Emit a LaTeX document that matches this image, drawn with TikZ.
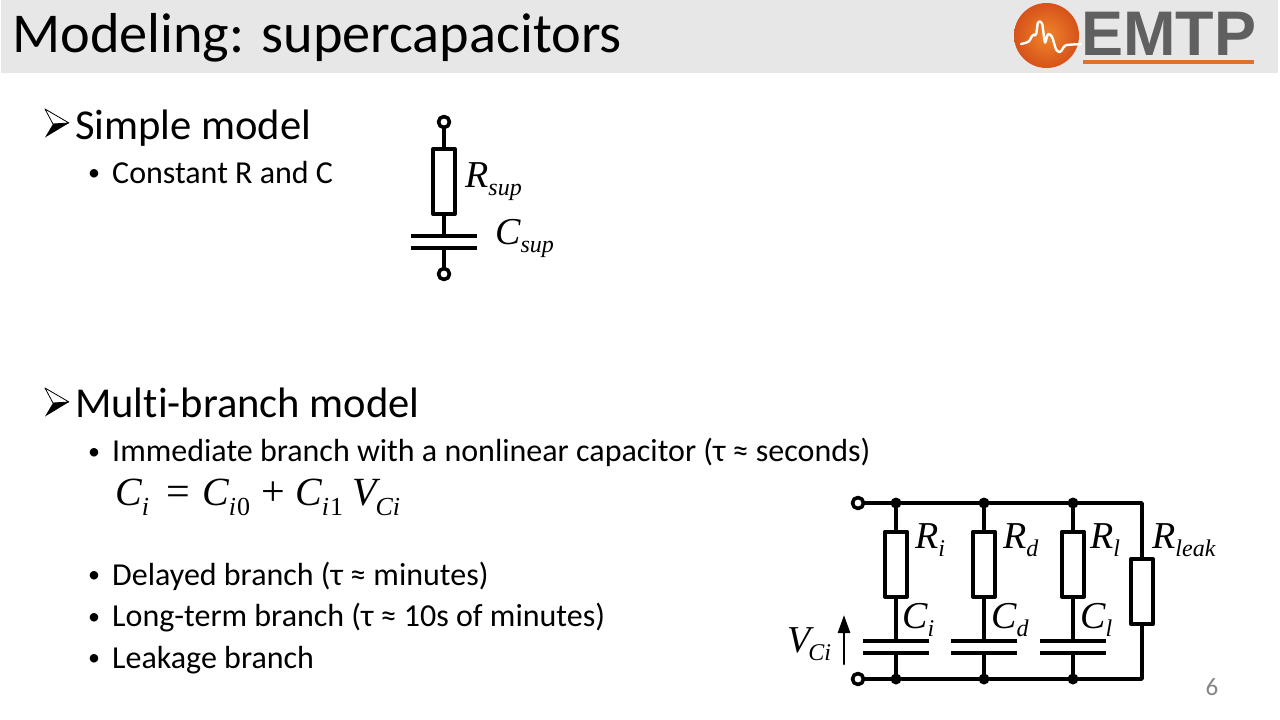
\documentclass[tikz,border=0pt]{standalone}
\usepackage{fontspec}
\setmainfont{Carlito}[Ligatures=NoCommon]
\newfontfamily\timesfont{Liberation Serif}
\newfontfamily\arialfont{Liberation Sans}
\usetikzlibrary{arrows.meta}
\definecolor{headgray}{HTML}{E7E7E7}
\definecolor{logogray}{HTML}{606060}
\definecolor{logoorange}{HTML}{E0702A}
\definecolor{ballinner}{HTML}{F0852B}
\definecolor{ballouter}{HTML}{D6521A}
\definecolor{pagegray}{HTML}{858585}
\newcommand{\symlab}[2]{{\timesfont\itshape\fontsize{38}{40}\selectfont #1\raisebox{-8pt}{\fontsize{24}{27}\selectfont #2}}}
\newcommand{\eqsym}[2]{{\timesfont\itshape\fontsize{40}{44}\selectfont #1\raisebox{-10pt}{\fontsize{26}{28}\selectfont #2}}}

\begin{document}
\begin{tikzpicture}[line cap=round,line join=round,x=1pt,y=-1pt,
        heading/.style={anchor=base west,inner sep=0,font=\fontsize{42.6}{46}\selectfont},
        itemtext/.style={anchor=base west,inner sep=0,font=\fontsize{32}{35}\selectfont},
        itembullet/.style={anchor=base,inner sep=0,font=\fontsize{24}{28}\selectfont},
        symtext/.style={anchor=base west,inner sep=0},
        eqtext/.style={anchor=base west,inner sep=0,font=\timesfont\fontsize{42}{44}\selectfont},
        wire/.style={line width=3.4pt},
        resbox/.style={draw,line width=4pt,fill=white,minimum width=22pt,minimum height=65pt,inner sep=0},
        plate/.style={fill=black,minimum width=66pt,minimum height=3.6pt,inner sep=0},
        junction/.style={circle,fill=black,minimum size=11pt,inner sep=0},
        terminal/.style={circle,draw,line width=3.6pt,fill=white,minimum size=11pt,inner sep=0}]
                \useasboundingbox (0,0) rectangle (1280,720);
                \fill [white] (0,0) rectangle (1280,720);
                \fill [headgray] (1,0) rectangle (1278,73);
                \node [anchor=base west,inner sep=0,font=\fontsize{56.3}{60}\selectfont] (title) at (12,52) {Modeling: supercapacitors};
                \node [circle,minimum size=65pt,inner sep=0,shading=radial,inner color=ballinner,outer color=ballouter] (logoball) at (1046.5,35.5) {};
                \draw [white,line width=2.4pt,rounded corners=2.5pt] (1021,44)-- (1029,42)-- (1033,34)-- (1036,36)-- (1038,21)-- (1042,22)-- (1045,44)-- (1048,33)-- (1052,36)-- (1056,50)-- (1060,53)-- (1065,45)-- (1081,44);
                \node [anchor=base west,inner sep=0,text=logogray,font=\arialfont\bfseries\fontsize{63}{66}\selectfont] (logotext) at (1081,55) {EMTP};
                \fill [logoorange] (1083,60) rectangle (1254,63.5);
                \draw [line width=0.8pt] (45,109)-- (69,123)-- (53,124)-- cycle;
                \fill (45,137.5)-- (69,123)-- (53,124)-- cycle;
                \node [heading] (simple) at (75,139) {Simple model};
                \node [itembullet] (bulletB) at (94,180) {•};
                \node [itemtext] (constant) at (112,183) {Constant R and C};
                \draw [line width=0.8pt] (45,388)-- (69,402)-- (53,403)-- cycle;
                \fill (45,416.5)-- (69,402)-- (53,403)-- cycle;
                \node [heading] (multi) at (75,417) {Multi-branch model};
                \node [itembullet] (bulletD) at (94,459) {•};
                \node [itemtext] (immediate) at (112,461) {Immediate branch with a nonlinear capacitor (τ ≈ seconds)};
                \node [symtext] (eqCi) at (115,505) {\eqsym{C}{i}};
                \node [eqtext] (eqsign) at (166,505) {=};
                \node [symtext] (eqCzero) at (202,505) {\eqsym{C}{i\kern1pt\normalfont\timesfont 0}};
                \node [eqtext] (eqplus) at (261,505) {+};
                \node [symtext] (eqCone) at (295,505) {\eqsym{C}{i\kern1pt\normalfont\timesfont 1}};
                \node [symtext] (eqV) at (352,505) {\eqsym{V}{\kern-1pt Ci}};
                \node [itembullet] (bulletE) at (94,582) {•};
                \node [itemtext] (delayed) at (112,585) {Delayed branch (τ ≈ minutes)};
                \node [itembullet] (bulletF) at (94,624) {•};
                \node [itemtext] (longterm) at (112,626) {Long-term branch (τ ≈ 10s of minutes)};
                \node [itembullet] (bulletG) at (94,665) {•};
                \node [itemtext] (leakage) at (112,668) {Leakage branch};
                \node [anchor=base,inner sep=0,text=pagegray,font=\fontsize{25}{28}\selectfont] (pagenum) at (1212,695) {6};
                \node [terminal] (supA) at (444,122) {};
                \node [resbox] (Rsup) at (444,181.5) {};
                \node [plate] (Csupa) at (444,236) {};
                \node [plate] (Csupb) at (444,248) {};
                \node [terminal] (supB) at (444,274) {};
                \draw [wire] (supA)-- (Rsup);
                \draw [wire] (Rsup)-- (Csupa);
                \draw [wire] (Csupb)-- (supB);
                \node [symtext] (Rsuplab) at (465,187) {\symlab{R}{sup}};
                \node [symtext] (Csuplab) at (495,244) {\symlab{C}{sup}};
                \node [terminal] (inA) at (858,503) {};
                \node [terminal] (inB) at (858,679) {};
                \node [junction] (topi) at (896,503) {};
                \node [junction] (topd) at (984,503) {};
                \node [junction] (topl) at (1073,503) {};
                \node [junction] (boti) at (896,679) {};
                \node [junction] (botd) at (984,679) {};
                \node [junction] (botl) at (1073,679) {};
                \coordinate (cornerA) at (1142,503);
                \coordinate (cornerB) at (1142,679);
                \node [resbox] (Ri) at (896,564) {};
                \node [resbox] (Rd) at (984,564) {};
                \node [resbox] (Rl) at (1073,564) {};
                \node [resbox] (Rleak) at (1142,591.5) {};
                \node [plate] (Cia) at (896,641) {};
                \node [plate] (Cib) at (896,653) {};
                \node [plate] (Cda) at (984,641) {};
                \node [plate] (Cdb) at (984,653) {};
                \node [plate] (Cla) at (1073,641) {};
                \node [plate] (Clb) at (1073,653) {};
                \draw [wire] (inA)-- (topi)-- (topd)-- (topl)-- (cornerA)-- (Rleak);
                \draw [wire] (Rleak)-- (cornerB)-- (botl)-- (botd)-- (boti)-- (inB);
                \draw [wire] (topi)-- (Ri);
                \draw [wire] (Ri)-- (Cia);
                \draw [wire] (Cib)-- (boti);
                \draw [wire] (topd)-- (Rd);
                \draw [wire] (Rd)-- (Cda);
                \draw [wire] (Cdb)-- (botd);
                \draw [wire] (topl)-- (Rl);
                \draw [wire] (Rl)-- (Cla);
                \draw [wire] (Clb)-- (botl);
                \coordinate (VCifoot) at (844,664);
                \coordinate (VCitip) at (844,615);
                \draw [-{Triangle[length=18pt,width=12pt]},line width=2.6pt] (VCifoot)-- (VCitip);
                \node [symtext] (Rilab) at (915,548) {\symlab{R}{i}};
                \node [symtext] (Rdlab) at (1003,548) {\symlab{R}{d}};
                \node [symtext] (Rllab) at (1090,548) {\symlab{R}{l}};
                \node [symtext] (Rleaklab) at (1152,548) {\symlab{R}{leak}};
                \node [symtext] (Cilab) at (902,628) {\symlab{C}{i}};
                \node [symtext] (Cdlab) at (991,628) {\symlab{C}{d}};
                \node [symtext] (Cllab) at (1080,628) {\symlab{C}{l}};
                \node [symtext] (VCilab) at (787,652) {\symlab{V}{\kern-2pt Ci}};
\end{tikzpicture}
\end{document}
